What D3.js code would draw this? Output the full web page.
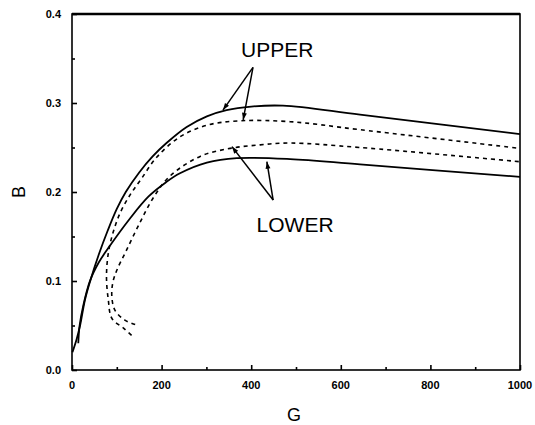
<!DOCTYPE html>
<html>
<head>
<meta charset="utf-8">
<script src="https://cdn.jsdelivr.net/npm/d3@7"></script>
<style>
  body { margin: 0; background: #fff; }
  svg { display: block; }
  text { font-family: "Liberation Sans", Arial, sans-serif; fill: #000; }
</style>
</head>
<body>
<svg id="chart" width="535" height="425"></svg>
<script>
//------------------------------------------------------------------------------
//Data  [G, B]
//------------------------------------------------------------------------------
let upperSolid = [[1,0.020],[10,0.034],[18,0.050],[29,0.079],[40,0.099],[60,0.130],[80,0.157],[100,0.181],
                  [120,0.200],[150,0.222],[180,0.240],[211,0.255],[256,0.273],[301,0.285],[345,0.292],[400,0.296],
                  [471,0.297],[643,0.287],[1000,0.265]];
let upperDashed = [[133,0.039],[115,0.047],[89,0.058],[81,0.079],[77,0.105],[81,0.131],[92,0.155],[108,0.177],
                   [130,0.197],[155,0.215],[189,0.239],[241,0.262],[301,0.275],[375,0.280],[487,0.279],[643,0.270],[1000,0.249]];
let lowerSolid = [[14,0.030],[17,0.050],[25,0.072],[40,0.100],[60,0.121],[81,0.137],[129,0.170],[171,0.195],
                  [210,0.211],[241,0.221],[301,0.233],[368,0.238],[487,0.237],[643,0.231],[1000,0.217]];
let lowerDashed = [[141,0.051],[118,0.056],[96,0.067],[89,0.082],[91,0.098],[100,0.112],[122,0.135],[152,0.166],
                   [182,0.194],[219,0.218],[286,0.240],[353,0.249],[420,0.253],[487,0.255],[643,0.250],[1000,0.234]];

let xTicks = [0, 200, 400, 600, 800, 1000];
let xMinor = [100, 300, 500, 700, 900];
let yTicks = [0.0, 0.1, 0.2, 0.3, 0.4];
let yMinor = [0.05, 0.15, 0.25, 0.35];

// annotations: label position, arrow apex, arrow tips (data units)
let upperLabel = {text: "UPPER", at: [458, 0.352], from: [404, 0.340], to: [[337, 0.292], [382, 0.281]]};
let lowerLabel = {text: "LOWER", at: [498, 0.155], from: [449, 0.191], to: [[357, 0.251], [435, 0.234]]};


//------------------------------------------------------------------------------
//Main
//------------------------------------------------------------------------------
var svg = d3.select("#chart"),
    margin = {top: 14, right: 15, bottom: 55, left: 72},
    width = 535 - margin.left - margin.right,
    height = 425 - margin.top - margin.bottom,
    g = svg.append("g").attr("transform", "translate(" + margin.left + "," + margin.top + ")");

var x = d3.scaleLinear().domain([0, 1000]).range([0, width]);
var y = d3.scaleLinear().domain([0, 0.4]).range([height, 0]);

// arrow head
svg.append("defs").append("marker")
    .attr("id", "head")
    .attr("viewBox", "0 0 10 10")
    .attr("refX", 10).attr("refY", 5)
    .attr("markerWidth", 9).attr("markerHeight", 7)
    .attr("markerUnits", "userSpaceOnUse")
    .attr("orient", "auto")
  .append("path")
    .attr("d", "M0,1.5 L10,5 L0,8.5 Z")
    .attr("fill", "#000");

// curves
var line = d3.line()
    .x(d => x(d[0]))
    .y(d => y(d[1]))
    .curve(d3.curveCatmullRom.alpha(0.5));

var curves = [
    {data: upperSolid, dash: null, w: 1.8},
    {data: upperDashed, dash: "4,4", w: 1.6},
    {data: lowerSolid, dash: null, w: 1.8},
    {data: lowerDashed, dash: "4,4", w: 1.6}
];

g.selectAll("path.curve")
    .data(curves)
    .enter()
    .append("path")
    .attr("class", "curve")
    .attr("fill", "none")
    .attr("stroke", "#000")
    .attr("stroke-width", d => d.w)
    .attr("stroke-dasharray", d => d.dash)
    .attr("d", d => line(d.data));

// frame
g.append("rect")
    .attr("width", width).attr("height", height)
    .attr("fill", "none").attr("stroke", "#000").attr("stroke-width", 1.6);
g.append("line")
    .attr("x1", 0).attr("x2", width).attr("y1", 0).attr("y2", 0)
    .attr("stroke", "#000").attr("stroke-width", 2.4);

// ticks (inward)
g.append("g").attr("transform", "translate(0," + height + ")")
    .call(d3.axisTop(x).tickValues(xTicks).tickSize(5).tickFormat(""))
    .call(a => a.select(".domain").remove());
g.append("g").attr("transform", "translate(0," + height + ")")
    .call(d3.axisTop(x).tickValues(xMinor).tickSize(3).tickFormat(""))
    .call(a => a.select(".domain").remove());

g.append("g").call(d3.axisRight(y).tickValues(yTicks).tickSize(5).tickFormat(""))
    .call(a => a.select(".domain").remove());
g.append("g").call(d3.axisRight(y).tickValues(yMinor).tickSize(3).tickFormat(""))
    .call(a => a.select(".domain").remove());

g.selectAll(".tick line").attr("stroke", "#000").attr("stroke-width", 1.6);

// tick labels
g.selectAll("text.xl")
    .data(xTicks)
    .enter()
    .append("text")
    .attr("class", "xl")
    .attr("x", d => x(d))
    .attr("y", height + 19)
    .attr("text-anchor", "middle")
    .attr("font-size", 11).attr("font-weight", "bold")
    .text(d => d);

g.selectAll("text.yl")
    .data(yTicks)
    .enter()
    .append("text")
    .attr("class", "yl")
    .attr("x", -11)
    .attr("y", d => y(d) + 4)
    .attr("text-anchor", "end")
    .attr("font-size", 11).attr("font-weight", "bold")
    .text(d => d3.format(".1f")(d));

// axis titles
svg.append("text")
    .attr("x", margin.left + x(500) - 2)
    .attr("y", 421)
    .attr("text-anchor", "middle")
    .attr("font-size", 18)
    .text("G");
svg.append("text")
    .attr("transform", "translate(25," + (margin.top + y(0.2)) + ") rotate(-90)")
    .attr("text-anchor", "middle")
    .attr("font-size", 18)
    .text("B");

// annotations
[upperLabel, lowerLabel].forEach(a => {
    g.append("text")
        .attr("x", x(a.at[0]))
        .attr("y", y(a.at[1]))
        .attr("text-anchor", "middle")
        .attr("font-size", 21)
        .text(a.text);
    a.to.forEach(t => {
        g.append("line")
            .attr("x1", x(a.from[0])).attr("y1", y(a.from[1]))
            .attr("x2", x(t[0])).attr("y2", y(t[1]))
            .attr("stroke", "#000").attr("stroke-width", 1.5)
            .attr("marker-end", "url(#head)");
    });
});
</script>
</body>
</html>
